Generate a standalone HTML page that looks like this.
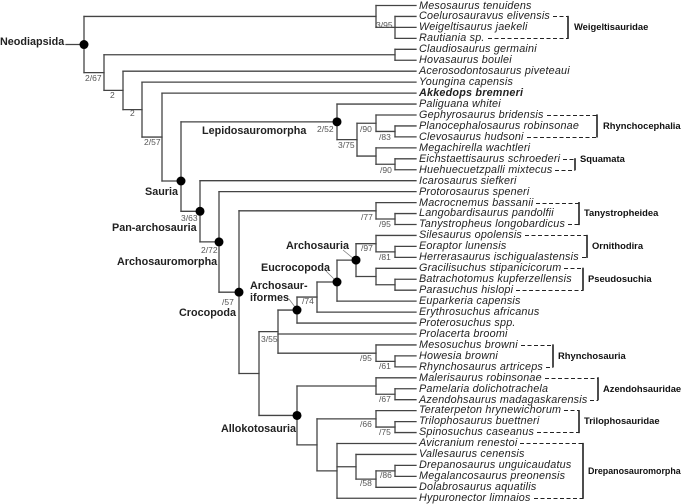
<!DOCTYPE html>
<html><head><meta charset="utf-8">
<style>
html,body{margin:0;padding:0;background:#fff;}
#w{position:relative;width:685px;height:504px;overflow:hidden;font-family:"Liberation Sans",Arial,sans-serif;}
svg{position:absolute;left:0;top:0;}
.t{position:absolute;left:419px;font-size:10.8px;letter-spacing:0.2px;font-style:italic;line-height:12px;color:#222;white-space:nowrap;}
.d{display:flex;align-items:center;}
.d i{flex:1;height:1px;margin-left:3px;margin-top:1px;background:repeating-linear-gradient(to right,#222 0 4px,transparent 4px 6.5px);}
.b{position:absolute;font-size:10.8px;font-weight:bold;color:#222;line-height:13px;white-space:nowrap;}
.c{position:absolute;font-size:9.4px;font-weight:bold;color:#111;line-height:12px;white-space:nowrap;}
.s{position:absolute;font-size:8.5px;color:#555;line-height:10px;white-space:nowrap;}
</style></head><body>
<div id="w">
<svg id="g" width="685" height="504"></svg>

<div class="t" style="top:0px">Mesosaurus tenuidens</div>
<div class="t d" style="top:10px;width:149px"><span>Coelurosauravus elivensis</span><i></i></div>
<div class="t" style="top:21px">Weigeltisaurus jaekeli</div>
<div class="t d" style="top:32px;width:149px"><span>Rautiania sp.</span><i></i></div>
<div class="t" style="top:43px">Claudiosaurus germaini</div>
<div class="t" style="top:54px">Hovasaurus boulei</div>
<div class="t" style="top:65px">Acerosodontosaurus piveteaui</div>
<div class="t" style="top:76px">Youngina capensis</div>
<div class="t" style="top:87px;font-weight:bold">Akkedops bremneri</div>
<div class="t" style="top:98px">Paliguana whitei</div>
<div class="t d" style="top:109px;width:178px"><span>Gephyrosaurus bridensis</span><i></i></div>
<div class="t" style="top:120px">Planocephalosaurus robinsonae</div>
<div class="t d" style="top:131px;width:178px"><span>Clevosaurus hudsoni</span><i></i></div>
<div class="t" style="top:142px">Megachirella wachtleri</div>
<div class="t d" style="top:153px;width:156px"><span>Eichstaettisaurus schroederi</span><i></i></div>
<div class="t d" style="top:164px;width:156px"><span>Huehuecuetzpalli mixtecus</span><i></i></div>
<div class="t" style="top:175px">Icarosaurus siefkeri</div>
<div class="t" style="top:186px">Protorosaurus speneri</div>
<div class="t d" style="top:197px;width:160px"><span>Macrocnemus bassanii</span><i></i></div>
<div class="t" style="top:207px">Langobardisaurus pandolfii</div>
<div class="t d" style="top:218px;width:160px"><span>Tanystropheus longobardicus</span><i></i></div>
<div class="t d" style="top:229px;width:168px"><span>Silesaurus opolensis</span><i></i></div>
<div class="t" style="top:240px">Eoraptor lunensis</div>
<div class="t d" style="top:251px;width:168px"><span>Herrerasaurus ischigualastensis</span><i></i></div>
<div class="t d" style="top:262px;width:164px"><span>Gracilisuchus stipanicicorum</span><i></i></div>
<div class="t" style="top:273px">Batrachotomus kupferzellensis</div>
<div class="t d" style="top:284px;width:164px"><span>Parasuchus hislopi</span><i></i></div>
<div class="t" style="top:295px">Euparkeria capensis</div>
<div class="t" style="top:306px">Erythrosuchus africanus</div>
<div class="t" style="top:317px">Proterosuchus spp.</div>
<div class="t" style="top:328px">Prolacerta broomi</div>
<div class="t d" style="top:339px;width:134px"><span>Mesosuchus browni</span><i></i></div>
<div class="t" style="top:350px">Howesia browni</div>
<div class="t d" style="top:361px;width:134px"><span>Rhynchosaurus artriceps</span><i></i></div>
<div class="t d" style="top:372px;width:179px"><span>Malerisaurus robinsonae</span><i></i></div>
<div class="t" style="top:383px">Pamelaria dolichotrachela</div>
<div class="t d" style="top:394px;width:179px"><span>Azendohsaurus madagaskarensis</span><i></i></div>
<div class="t d" style="top:404px;width:160px"><span>Teraterpeton hrynewichorum</span><i></i></div>
<div class="t" style="top:415px">Trilophosaurus buettneri</div>
<div class="t d" style="top:426px;width:160px"><span>Spinosuchus caseanus</span><i></i></div>
<div class="t d" style="top:437px;width:164px"><span>Avicranium renestoi</span><i></i></div>
<div class="t" style="top:448px">Vallesaurus cenensis</div>
<div class="t" style="top:459px">Drepanosaurus unguicaudatus</div>
<div class="t" style="top:470px">Megalancosaurus preonensis</div>
<div class="t" style="top:481px">Dolabrosaurus aquatilis</div>
<div class="t d" style="top:492px;width:164px"><span>Hypuronector limnaios</span><i></i></div>

<div class="c" style="left:574px;top:21px">Weigeltisauridae</div>
<div class="c" style="left:603px;top:120px">Rhynchocephalia</div>
<div class="c" style="left:580px;top:153px">Squamata</div>
<div class="c" style="left:584px;top:207px">Tanystropheidea</div>
<div class="c" style="left:592px;top:240px">Ornithodira</div>
<div class="c" style="left:588px;top:273px">Pseudosuchia</div>
<div class="c" style="left:558px;top:350px">Rhynchosauria</div>
<div class="c" style="left:603px;top:383px">Azendohsauridae</div>
<div class="c" style="left:584px;top:415px">Trilophosauridae</div>
<div class="c" style="left:588px;top:465px;font-size:8.9px">Drepanosauromorpha</div>

<div class="b" style="left:0px;top:36px">Neodiapsida</div>
<div class="b" style="left:202px;top:125px">Lepidosauromorpha</div>
<div class="b" style="left:145px;top:186px">Sauria</div>
<div class="b" style="left:112px;top:222px">Pan-archosauria</div>
<div class="b" style="left:117px;top:256px">Archosauromorpha</div>
<div class="b" style="left:179px;top:307px">Crocopoda</div>
<div class="b" style="left:286px;top:240px">Archosauria</div>
<div class="b" style="left:261px;top:262px">Eucrocopoda</div>
<div class="b" style="left:250px;top:280px">Archosaur-</div>
<div class="b" style="left:250px;top:292px">iformes</div>
<div class="b" style="left:221px;top:423px">Allokotosauria</div>

<div class="s" style="left:376px;top:20px">3/95</div>
<div class="s" style="left:85px;top:73px">2/67</div>
<div class="s" style="left:110px;top:90px">2</div>
<div class="s" style="left:130px;top:108px">2</div>
<div class="s" style="left:144px;top:137px">2/57</div>
<div class="s" style="left:317px;top:124px">2/52</div>
<div class="s" style="left:338px;top:140px">3/75</div>
<div class="s" style="left:360px;top:124px">/90</div>
<div class="s" style="left:379px;top:132px">/83</div>
<div class="s" style="left:380px;top:165px">/90</div>
<div class="s" style="left:181px;top:213px">3/63</div>
<div class="s" style="left:201px;top:245px">2/72</div>
<div class="s" style="left:222px;top:297px">/57</div>
<div class="s" style="left:361px;top:212px">/77</div>
<div class="s" style="left:379px;top:219px">/95</div>
<div class="s" style="left:361px;top:243px">/97</div>
<div class="s" style="left:379px;top:252px">/81</div>
<div class="s" style="left:302px;top:296px">/74</div>
<div class="s" style="left:261px;top:334px">3/55</div>
<div class="s" style="left:360px;top:353px">/95</div>
<div class="s" style="left:379px;top:361px">/61</div>
<div class="s" style="left:379px;top:394px">/67</div>
<div class="s" style="left:360px;top:419px">/66</div>
<div class="s" style="left:379px;top:427px">/75</div>
<div class="s" style="left:380px;top:470px">/86</div>
<div class="s" style="left:360px;top:478px">/58</div>
</div>
<script>
(function(){
var Y=function(i){return 5.5+10.95*i;};
var LEAFX=416;
function L(i){return {leaf:true,y:Y(i)};}
function N(x,ch,yin){var ys=ch.map(function(c){return c.y;});var mn=Math.min.apply(null,ys),mx=Math.max.apply(null,ys);
 return {x:x,ch:ch,y:(yin!==undefined?yin:(mn+mx)/2),mn:mn,mx:mx};}
var dots=[];
function D(n){dots.push(n);return n;}
var ARCHOSAURIA=D(N(356,[N(376,[L(21),N(395,[L(22),L(23)])]),N(376,[L(24),N(395,[L(25),L(26)])])]));
var EUC=D(N(337,[ARCHOSAURIA,L(27)],282));
var ASF=D(N(297,[N(317,[EUC,L(28)]),L(29)]));
var ALLO=D(N(297,[N(376,[L(34),N(395,[L(35),L(36)])]),N(317,[N(376,[L(37),N(395,[L(38),L(39)])]),N(337,[L(40),N(356,[L(41),N(376,[N(395,[L(42),L(43)]),L(44)])]),L(45)])])]));
var CROCO=D(N(239,[N(376,[L(18),N(395,[L(19),L(20)])]),N(259,[N(278,[ASF,L(30),N(376,[L(31),N(395,[L(32),L(33)])])]),ALLO])]));
var ARCHOM=D(N(219,[L(17),CROCO]));
var PAN=D(N(200,[L(16),ARCHOM]));
var LEPI=D(N(337,[L(9),N(357,[N(376,[L(10),N(395,[L(11),L(12)])]),N(376,[L(13),N(395,[L(14),L(15)])])])]));
var SAURIA=D(N(181,[LEPI,PAN],181));
var ROOT=D(N(84,[N(376,[L(0),N(395,[L(1),L(2),L(3)])]),N(104,[N(395,[L(4),L(5)]),N(123,[L(6),N(142,[L(7),N(162,[L(8),SAURIA])])])])]));
var s='';
function ln(x1,y1,x2,y2,extra){s+='<line x1="'+x1+'" y1="'+y1+'" x2="'+x2+'" y2="'+y2+'" '+(extra||'')+'/>';}
function draw(n){
 ln(n.x,n.mn,n.x,n.mx);
 n.ch.forEach(function(c){ln(n.x,c.y,c.leaf?LEAFX:c.x,c.y);if(!c.leaf)draw(c);});
}
s+='<g stroke="#444" stroke-width="1.3" fill="none" stroke-linecap="square">';
ln(66,ROOT.y,84,ROOT.y);
draw(ROOT);
s+='</g>';
s+='<g stroke="#777" stroke-width="0.7"><line x1="343" y1="250" x2="354" y2="259"/><line x1="326" y1="271" x2="335" y2="280"/><line x1="289" y1="299" x2="295" y2="307"/></g>';
dots.forEach(function(n){s+='<circle cx="'+n.x+'" cy="'+n.y+'" r="4.5" fill="#000"/>';});
var br=[[1,3,568],[10,12,597],[14,15,575],[18,20,579],[21,23,587],[24,26,583],[31,33,553],[34,36,598],[37,39,579],[40,45,583]];
s+='<g stroke="#222" fill="none">';
br.forEach(function(b){var y1=Y(b[0]),y2=Y(b[1]);
 s+='<line x1="'+b[2]+'" y1="'+(y1-0.6)+'" x2="'+b[2]+'" y2="'+(y2+0.6)+'" stroke-width="1.6"/>';
});
s+='</g>';
document.getElementById('g').innerHTML=s;
})();
</script>
</body></html>
